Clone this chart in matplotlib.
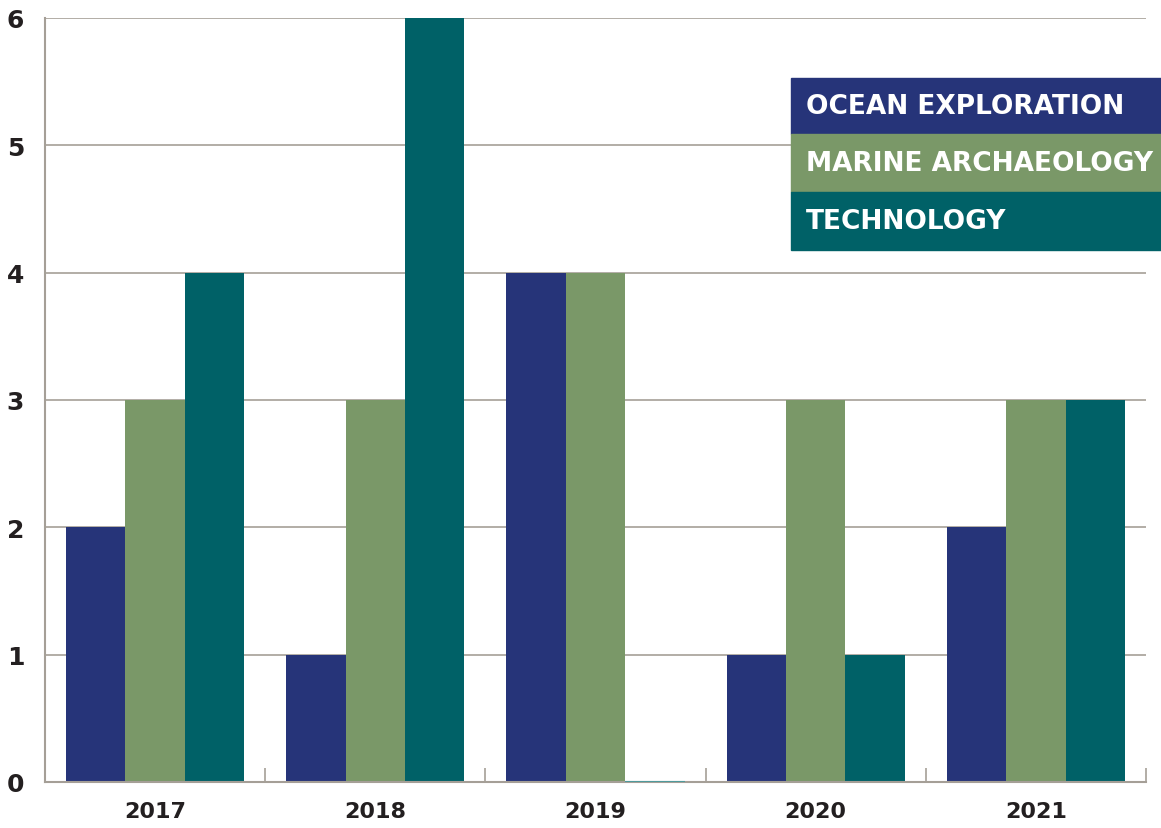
import numpy as np
import matplotlib
matplotlib.use("Agg")
from matplotlib import pyplot as plt
from matplotlib.patches import Rectangle

years = ["2017", "2018", "2019", "2020", "2021"]
ocean_exploration = [2, 1, 4, 1, 2]
marine_archaeology = [3, 3, 4, 3, 3]
technology = [4, 6, 0, 1, 3]

series_names = ["OCEAN EXPLORATION", "MARINE ARCHAEOLOGY", "TECHNOLOGY"]
colors = ["#263479", "#7a9868", "#006167"]
grid_color = "#a59f97"

plt.rcParams["font.family"] = ["DejaVu Sans"]
plt.rcParams["font.weight"] = "bold"

fig = plt.figure(figsize=(11.61, 8.29), dpi=100)
ax = fig.add_axes([45 / 1161, 1 - 783 / 829, 1101 / 1161, 764 / 829])

x = np.arange(len(years))
width = 0.27
all_series = [ocean_exploration, marine_archaeology, technology]
for i, vals in enumerate(all_series):
    bars = ax.bar(x + (i - 1) * width, vals, width, color=colors[i],
                  linewidth=0, zorder=2)
    for b, v in zip(bars, vals):
        if v == 0:
            # empty bar still shows as a thin line on the baseline
            b.set_edgecolor("#4f9a9c")
            b.set_linewidth(1.5)
            b.set_zorder(4)

ax.set_xlim(-0.5, 4.5)
ax.set_ylim(0, 6)
ax.set_yticks(range(7))
ax.yaxis.grid(True, color=grid_color, linewidth=1.2, zorder=0)
ax.set_axisbelow(True)

ax.set_xticks(np.arange(0.5, 5, 1))
ax.set_xticklabels([])
ax.tick_params(axis="x", which="major", direction="in", length=10,
               color=grid_color, width=1.2)
ax.set_xticks(x, minor=True)
ax.set_xticklabels(years, minor=True, fontsize=16, fontweight="bold",
                   color="#231f20")
ax.tick_params(axis="x", which="minor", length=0, pad=14)
ax.tick_params(axis="y", length=0, pad=15, labelsize=18, labelcolor="#231f20")
for lab in ax.get_yticklabels():
    lab.set_fontweight("bold")

for s in ["top", "right"]:
    ax.spines[s].set_visible(False)
for s in ["left", "bottom"]:
    ax.spines[s].set_color(grid_color)
    ax.spines[s].set_linewidth(1.5)

# legend boxes
box_top = [79, 135, 193]
box_bot = [135, 193, 251]
for name, c, t, b in zip(series_names, colors, box_top, box_bot):
    y0 = 1 - b / 829
    h = (b - t) / 829
    fig.add_artist(Rectangle((791 / 1161, y0), 370 / 1161, h,
                             transform=fig.transFigure, color=c, zorder=5))
    fig.text(806 / 1161, y0 + h / 2, name, color="white", fontsize=19,
             fontweight="bold", va="center", ha="left", zorder=6)

fig.savefig("out.png", dpi=100)
